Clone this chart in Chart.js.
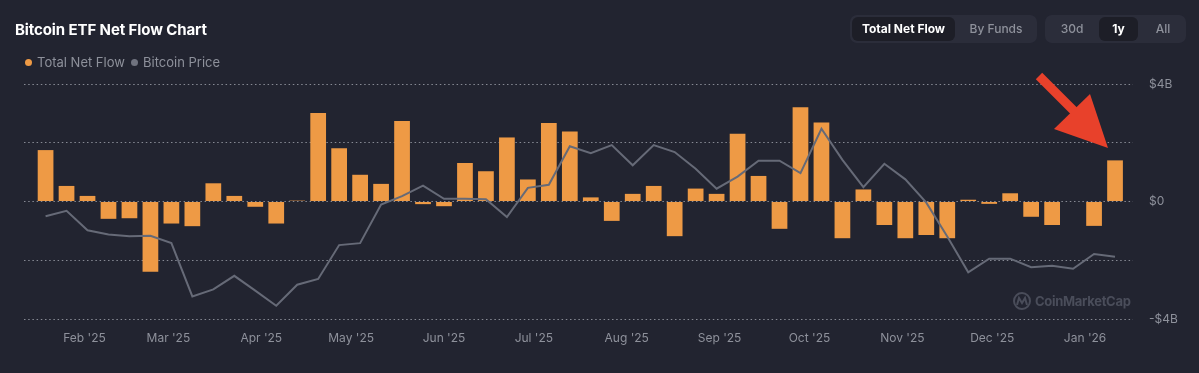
<!DOCTYPE html>
<html>
<head>
<meta charset="utf-8">
<script src="https://cdn.jsdelivr.net/npm/chart.js@4.4.1/dist/chart.umd.min.js"></script>
<style>
  html, body { margin:0; padding:0; background:#222430; }
  body { width:1199px; height:373px; position:relative; overflow:hidden; font-family: Inter, "Noto Sans", sans-serif; }
  #c { position:absolute; left:0; top:0; }
  .title { position:absolute; left:15px; top:20px; font-size:15px; font-weight:700; color:#ffffff; line-height:20px; letter-spacing:-0.1px; }
  .legend { position:absolute; top:53px; left:24px; font-size:13px; color:#8e919b; line-height:18px; }
  .legend span.item { position:absolute; white-space:nowrap; }
  .dot { position:absolute; width:7px; height:7px; border-radius:50%; top:6px; }
  .grp { position:absolute; top:15px; height:28px; background:#2b2d3a; border-radius:7px; }
  .btn { position:absolute; top:2px; height:24px; line-height:24px; font-size:12px; text-align:center; color:#8e919b; font-weight:500; border-radius:6px; }
  .btn.sel { background:#1d1e27; color:#ffffff; font-weight:700; }
  .wm { position:absolute; left:1035px; top:291px; font-size:13px; font-weight:700; color:#4a4d5a; line-height:20px; letter-spacing:-0.3px; }
</style>
</head>
<body>
<canvas id="c" width="1199" height="373"></canvas>
<div class="title">Bitcoin ETF Net Flow Chart</div>
<div class="legend">
  <span class="dot" style="left:1px;background:#ee9a45"></span>
  <span class="item" style="left:13px">Total Net Flow</span>
  <span class="dot" style="left:107px;background:#70737f"></span>
  <span class="item" style="left:119px">Bitcoin Price</span>
</div>
<div class="grp" style="left:850px;width:187px;">
  <div class="btn sel" style="left:2px;width:103px;">Total Net Flow</div>
  <div class="btn" style="left:105px;width:82px;">By Funds</div>
</div>
<div class="grp" style="left:1045px;width:141px;">
  <div class="btn" style="left:8px;width:38px;">30d</div>
  <div class="btn sel" style="left:54px;width:39px;">1y</div>
  <div class="btn" style="left:99px;width:38px;">All</div>
</div>
<svg style="position:absolute;left:0;top:0" width="1199" height="373">
  <g fill="none" stroke="#4a4d5a" stroke-width="2">
    <circle cx="1022" cy="301" r="8"/>
    <path d="M1017 305 L1019 298 L1022 303 L1025 298 L1027 305"/>
  </g>
  <line x1="1039" y1="76" x2="1076" y2="113" stroke="#e8412b" stroke-width="9"/>
  <polygon points="1054,129 1090,94 1108,148" fill="#e8412b"/>
</svg>
<div class="wm">CoinMarketCap</div>
<script>
// Week start dates of each weekly bar
const weeks = [
  '2025-01-19','2025-01-26','2025-02-02','2025-02-09','2025-02-16','2025-02-23',
  '2025-03-02','2025-03-09','2025-03-16','2025-03-23','2025-03-30','2025-04-06',
  '2025-04-13','2025-04-20','2025-04-27','2025-05-04','2025-05-11','2025-05-18',
  '2025-05-25','2025-06-01','2025-06-08','2025-06-15','2025-06-22','2025-06-29',
  '2025-07-06','2025-07-13','2025-07-20','2025-07-27','2025-08-03','2025-08-10',
  '2025-08-17','2025-08-24','2025-08-31','2025-09-07','2025-09-14','2025-09-21',
  '2025-09-28','2025-10-05','2025-10-12','2025-10-19','2025-10-26','2025-11-02',
  '2025-11-09','2025-11-16','2025-11-23','2025-11-30','2025-12-07','2025-12-14',
  '2025-12-21','2025-12-28','2026-01-04','2026-01-11'
];
// Total net flow, billions USD
const netFlow = [
  1.75, 0.53, 0.19, -0.59, -0.57, -2.39,
  -0.75, -0.84, 0.62, 0.19, -0.18, -0.75,
  0.03, 3.01, 1.81, 0.91, 0.60, 2.74,
  -0.09, -0.16, 1.31, 1.03, 2.18, 0.75,
  2.67, 2.38, 0.14, -0.66, 0.26, 0.53,
  -1.18, 0.44, 0.26, 2.31, 0.87, -0.93,
  3.21, 2.69, -1.25, 0.41, -0.80, -1.25,
  -1.14, -1.25, 0.06, -0.08, 0.28, -0.52,
  -0.80, 0, -0.83, 1.40
];
// Bitcoin price, thousands USD
const btcPrice = [
  101.0, 102.4, 97.4, 96.3, 95.9, 96.0,
  94.1, 80.4, 82.2, 85.7, 81.9, 78.0,
  83.4, 84.9, 93.6, 94.1, 104.0, 106.2,
  108.9, 105.5, 105.5, 105.4, 100.8, 108.3,
  109.1, 119.0, 117.2, 119.3, 114.1, 119.3,
  117.5, 113.2, 108.1, 111.2, 115.3, 115.3,
  112.1, 123.5, 115.5, 108.5, 114.5, 110.5,
  104.5, 95.8, 86.6, 90.1, 90.1, 87.9,
  88.3, 87.5, 91.3, 90.6
];
// X tick positions (month starts) and labels
const monthStarts = ['2025-02-01','2025-03-01','2025-04-01','2025-05-01','2025-06-01','2025-07-01',
  '2025-08-01','2025-09-01','2025-10-01','2025-11-01','2025-12-01','2026-01-01'];
const monthLabels = ["Feb '25","Mar '25","Apr '25","May '25","Jun '25","Jul '25",
  "Aug '25","Sep '25","Oct '25","Nov '25","Dec '25","Jan '26"];
// Y ticks
const yTicks = [-4, -2, 0, 2, 4];
const yTickLabels = ['-$4B', '', '$0', '', '$4B'];

const origin = Date.UTC(2025, 0, 1);
const toDay = s => { const [y,m,d] = s.split('-').map(Number); return (Date.UTC(y, m-1, d) - origin) / 86400000; };
const weekDays = weeks.map(toDay);
const monthDays = monthStarts.map(toDay);

new Chart(document.getElementById('c'), {
  type: 'bar',
  data: {
    datasets: [
      {
        type: 'line',
        label: 'Bitcoin Price',
        data: weekDays.map((x, i) => ({ x, y: btcPrice[i] })),
        yAxisID: 'y1',
        borderColor: '#666a77',
        borderWidth: 2,
        pointRadius: 0,
        tension: 0,
        order: 0
      },
      {
        type: 'bar',
        label: 'Total Net Flow',
        data: weekDays.map((x, i) => ({ x, y: netFlow[i] })),
        yAxisID: 'y',
        backgroundColor: '#ee9a45',
        barPercentage: 0.75,
        categoryPercentage: 1.0,
        order: 1
      }
    ]
  },
  options: {
    responsive: false,
    animation: false,
    layout: { padding: { left: 24, top: 84, right: 0, bottom: 0 } },
    plugins: { legend: { display: false }, tooltip: { enabled: false } },
    scales: {
      x: {
        type: 'linear',
        offset: false,
        min: 10.8,
        max: 381,
        grid: { display: false, drawTicks: false, offset: false },
        border: { display: false },
        afterBuildTicks: s => { s.ticks = monthDays.map(v => ({ value: v })); },
        afterFit: s => { s.height = 54; },
        ticks: {
          color: '#8e919b',
          font: { family: 'Inter', size: 12 },
          padding: 12,
          maxRotation: 0,
          autoSkip: false,
          callback: (v, i) => monthLabels[i]
        }
      },
      y: {
        position: 'right',
        min: -4,
        max: 4,
        afterBuildTicks: s => { s.ticks = yTicks.map(v => ({ value: v })); },
        afterFit: s => { s.width = 66; },
        grid: { color: '#878a94', lineWidth: 1, drawTicks: false },
        border: { display: false, dash: [1.5, 2.7] },
        ticks: {
          color: '#8e919b',
          font: { family: 'Inter', size: 12 },
          padding: 16,
          callback: (v, i) => yTickLabels[i]
        }
      },
      y1: {
        display: false,
        min: 74.6,
        max: 135.0
      }
    }
  }
});
</script>
</body>
</html>
